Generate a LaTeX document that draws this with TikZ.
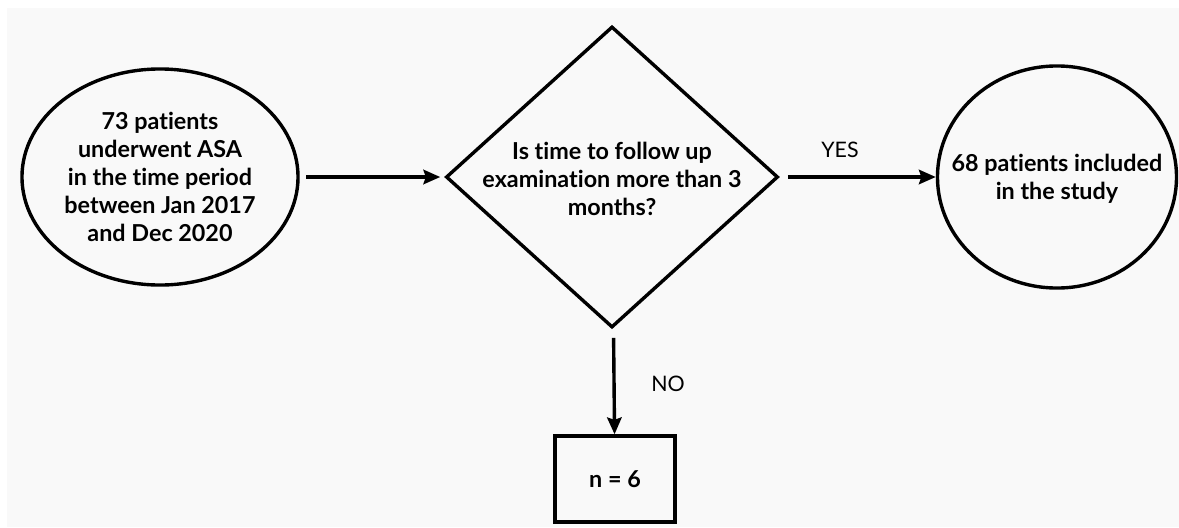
\documentclass[tikz,border=0pt]{standalone}
\usepackage{fontspec}
\setmainfont{Lato}[Ligatures=NoCommon]
\usetikzlibrary{arrows.meta,shapes.geometric}
\definecolor{paper}{HTML}{F9F9F9}
\newcommand\flowfont{\fontsize{16.6}{19.9}\selectfont}
\newcommand\answerfont{\fontsize{15.2}{18}\selectfont}
\tikzset{
	flowline/.style={line width=0.85mm, -{Stealth[length=4.2mm, width=3.6mm, inset=0.6mm]}},
	startbox/.style={ellipse, draw, line width=0.85mm, inner sep=0pt, align=center, font=\flowfont\bfseries},
	decision/.style={diamond, draw, line width=0.85mm, inner sep=0pt},
	resultbox/.style={rectangle, draw, line width=0.85mm, inner sep=0pt, align=center, font=\flowfont\bfseries},
	boxtext/.style={align=center, font=\flowfont\bfseries},
	answer/.style={font=\answerfont}
}
\begin{document}
\begin{tikzpicture}[x=0.025cm, y=-0.025cm]
			%%%%% START %%%%%
			
			\fill[white] (0, 0) rectangle (1179, 527);
			\fill[paper] (7, 8) rectangle (1179, 527);
			\useasboundingbox (0, 0) rectangle (1179, 527);
			
			\node[startbox, minimum width=6.9cm, minimum height=5.4cm] (patients) at (160, 177)
				{73 patients\\underwent ASA\\in the time period\\between Jan 2017\\and Dec 2020};
			
			\node[decision, minimum width=8.3cm, minimum height=7.525cm] (followup) at (612, 177) {};
			\node[boxtext] (question) at (612, 179)
				{Is time to follow up\\examination more than 3\\months?};
			
			\node[startbox, minimum width=5.975cm, minimum height=5.55cm] (included) at (1057, 177) {};
			\node[boxtext] (includedtext) at (1057, 179) {68 patients included\\in the study};
			
			\node[resultbox, minimum width=3cm, minimum height=2.15cm] (excluded) at (615, 479) {n = 6};
			
			\draw[flowline, shorten <=1.6mm, shorten >=1mm] (patients) -- (followup);
			\draw[flowline, shorten <=2mm] (followup) -- (included);
			\draw[flowline, shorten <=2.5mm] (followup) -- (excluded);
			
			\node[answer] (yes) at (840, 150) {YES};
			\node[answer] (no) at (668, 384) {NO};
			
			%%%%% END %%%%%
\end{tikzpicture}
\end{document}
